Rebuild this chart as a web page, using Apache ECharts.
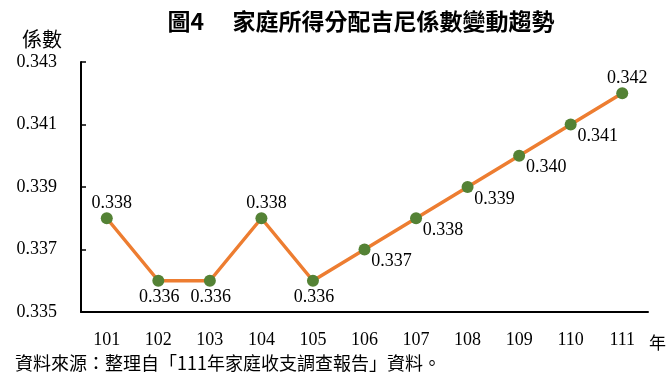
<!DOCTYPE html>
<html>
<head>
<meta charset="utf-8">
<script src="https://cdn.jsdelivr.net/npm/echarts@6/dist/echarts.min.js"></script>
<style>
  html, body { margin: 0; padding: 0; background: #fff; }
  #container { width: 666px; height: 378px; }
</style>
</head>
<body>
<div id="container"></div>
<script>
// data
var years = ['101', '102', '103', '104', '105', '106', '107', '108', '109', '110', '111'];
var gini = [0.338, 0.336, 0.336, 0.338, 0.336, 0.337, 0.338, 0.339, 0.340, 0.341, 0.342];
var yTicks = [0.335, 0.337, 0.339, 0.341, 0.343];

var numFont = '"Liberation Serif", "DejaVu Serif", serif';
var cjkFont = '"Noto Sans CJK TC", "Noto Sans CJK SC", sans-serif';

// where each value label sits around its point
function labelOffset(i) {
    if (i == 0 || i == 3) return [5, -15];
    if (i == 1 || i == 2 || i == 4) return [1, 17];
    if (i == 10) return [5, -15];
    return [27, 12];
}

var seriesData = gini.map(function (v, i) {
    return {
        value: v,
        label: { offset: labelOffset(i) }
    };
});

var dom = document.getElementById('container');
var myChart = echarts.init(dom, null, { renderer: 'canvas' });

var option = {
    animation: false,
    grid: { left: 81, right: 18, top: 62, bottom: 66 },
    title: [{
        text: '圖4　 家庭所得分配吉尼係數變動趨勢',
        left: 356,
        top: 5,
        textAlign: 'center',
        textStyle: { fontFamily: cjkFont, fontSize: 23, fontWeight: 'bold', color: '#000' }
    }, {
        text: '係數',
        left: 17,
        top: 24,
        textStyle: { fontFamily: cjkFont, fontSize: 20, fontWeight: 'normal', color: '#000' }
    }, {
        text: '年',
        left: 644,
        top: 329,
        textStyle: { fontFamily: cjkFont, fontSize: 17, fontWeight: 'normal', color: '#000' }
    }, {
        text: '資料來源：整理自「111年家庭收支調查報告」資料。',
        left: 10,
        top: 349,
        textStyle: { fontFamily: cjkFont, fontSize: 18, fontWeight: 'normal', color: '#000' }
    }],
    xAxis: {
        type: 'category',
        data: years,
        boundaryGap: true,
        axisLine: { lineStyle: { color: '#000', width: 2 } },
        axisTick: { inside: true, length: 5, lineStyle: { color: '#000', width: 1.5 } },
        axisLabel: { margin: 19, color: '#000', fontFamily: numFont, fontSize: 18 }
    },
    yAxis: {
        type: 'value',
        min: 0.335,
        max: 0.343,
        splitLine: { show: false },
        axisLine: { show: true, lineStyle: { color: '#000', width: 2 } },
        axisTick: { show: true, inside: true, length: 5, customValues: yTicks, lineStyle: { color: '#000', width: 1.5 } },
        axisLabel: {
            margin: 24,
            color: '#000',
            fontFamily: numFont,
            fontSize: 18,
            customValues: yTicks,
            formatter: function (v) { return v.toFixed(3); }
        }
    },
    series: [{
        type: 'line',
        data: seriesData,
        symbol: 'circle',
        symbolSize: 12,
        lineStyle: { color: '#ED7D31', width: 3.5 },
        itemStyle: { color: '#548235' },
        label: {
            show: true,
            position: 'inside',
            color: '#000',
            fontFamily: numFont,
            fontSize: 18,
            formatter: function (p) { return p.value.toFixed(3); }
        }
    }]
};

myChart.setOption(option);
window.addEventListener('resize', myChart.resize);
</script>
</body>
</html>
